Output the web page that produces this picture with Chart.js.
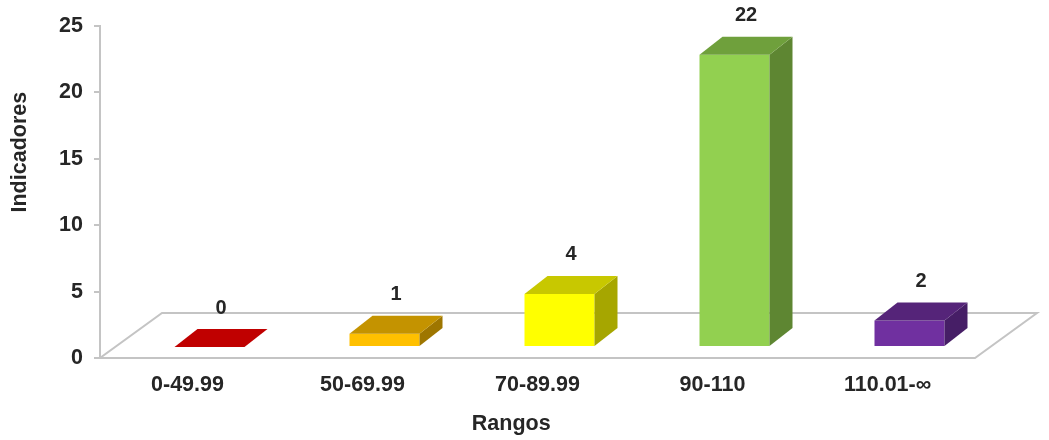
<!DOCTYPE html>
<html>
<head>
<meta charset="utf-8">
<script src="https://cdn.jsdelivr.net/npm/chart.js@4.4.1/dist/chart.umd.min.js"></script>
<style>
    html, body { margin: 0; padding: 0; background: #fff; }
    canvas { display: block; }
</style>
</head>
<body>
<canvas id="rangosChart" width="1049" height="440"></canvas>
<script>
    // data
    const rangos = ['0-49.99', '50-69.99', '70-89.99', '90-110', '110.01-\u221e'];
    const indicadores = [0, 1, 4, 22, 2];
    const yTicks = [0, 5, 10, 15, 20, 25];
    const xTitle = 'Rangos';
    const yTitle = 'Indicadores';

    // bar colours: front, top, side
    const frontColors = ['#c00000', '#ffc000', '#ffff00', '#92d050', '#7030a0'];
    const topColors = ['#c00000', '#c49300', '#c8c800', '#6fa03c', '#552479'];
    const sideColors = ['#a00000', '#9e7600', '#a6a600', '#5e8632', '#461e66'];

    const FONT = "'Liberation Sans', Arial, sans-serif";
    const TEXT = '#262626';
    const GRID = '#c4c4c4';

    // 3d look
    const barShift = { x: 22, y: -11 };   // where the bar fronts sit on the floor
    const barDepth = { x: 23, y: -18 };
    const floorDepth = { x: 62, y: -45 };

    const threeD = {
        id: 'threeD',
        beforeDatasetsDraw(chart) {
            const ctx = chart.ctx;
            const area = chart.chartArea;
            // floor
            ctx.save();
            ctx.beginPath();
            ctx.moveTo(area.left, area.bottom);
            ctx.lineTo(area.right, area.bottom);
            ctx.lineTo(area.right + floorDepth.x, area.bottom + floorDepth.y);
            ctx.lineTo(area.left + floorDepth.x, area.bottom + floorDepth.y);
            ctx.closePath();
            ctx.fillStyle = '#ffffff';
            ctx.fill();
            ctx.strokeStyle = GRID;
            ctx.lineWidth = 2;
            ctx.stroke();
            ctx.restore();

            // bar fronts are drawn by the library, pushed back onto the floor
            ctx.save();
            ctx.translate(barShift.x, barShift.y);
        },
        afterDatasetsDraw(chart) {
            const ctx = chart.ctx;
            const meta = chart.getDatasetMeta(0);
            meta.data.forEach((bar, i) => {
                const p = bar.getProps(['x', 'y', 'base', 'width'], true);
                const l = p.x - p.width / 2;
                const r = p.x + p.width / 2;
                const t = p.y;
                const b = p.base;

                if (b - t > 0.5) {
                    ctx.beginPath();
                    ctx.moveTo(r, t);
                    ctx.lineTo(r + barDepth.x, t + barDepth.y);
                    ctx.lineTo(r + barDepth.x, b + barDepth.y);
                    ctx.lineTo(r, b);
                    ctx.closePath();
                    ctx.fillStyle = sideColors[i];
                    ctx.fill();
                }

                ctx.beginPath();
                ctx.moveTo(l, t);
                ctx.lineTo(l + barDepth.x, t + barDepth.y);
                ctx.lineTo(r + barDepth.x, t + barDepth.y);
                ctx.lineTo(r, t);
                ctx.closePath();
                ctx.fillStyle = topColors[i];
                ctx.fill();

                // value label above the top face
                ctx.fillStyle = TEXT;
                ctx.font = 'bold 20px ' + FONT;
                ctx.textAlign = 'center';
                ctx.textBaseline = 'middle';
                ctx.fillText(String(indicadores[i]), p.x + barDepth.x / 2, t + barDepth.y - 21);
            });
            ctx.restore();
        },
        afterDraw(chart) {
            // axis titles sit a little off the centre in the original
            const ctx = chart.ctx;
            const area = chart.chartArea;
            ctx.save();
            ctx.fillStyle = TEXT;
            ctx.font = 'bold 21.5px ' + FONT;
            ctx.textAlign = 'center';
            ctx.textBaseline = 'middle';
            ctx.fillText(xTitle, area.left + (area.right - area.left) * 0.47, 424);
            ctx.translate(20, area.top + (area.bottom - area.top) * 0.38);
            ctx.rotate(-Math.PI / 2);
            ctx.fillText(yTitle, 0, 0);
            ctx.restore();
        }
    };

    new Chart(document.getElementById('rangosChart'), {
        type: 'bar',
        data: {
            labels: rangos,
            datasets: [{
                data: indicadores,
                backgroundColor: frontColors,
                borderWidth: 0,
                categoryPercentage: 0.8,
                barPercentage: 0.5,
                clip: false
            }]
        },
        options: {
            responsive: false,
            animation: false,
            layout: { padding: { top: 26, right: 74, left: 0, bottom: 0 } },
            plugins: {
                legend: { display: false },
                tooltip: { enabled: false }
            },
            scales: {
                x: {
                    grid: { display: false },
                    border: { display: false },
                    ticks: {
                        color: TEXT,
                        padding: 6,
                        font: { family: FONT, size: 21.5, weight: 'bold' }
                    },
                    afterFit(scale) { scale.height = 82; }
                },
                y: {
                    min: yTicks[0],
                    max: yTicks[yTicks.length - 1],
                    afterBuildTicks(scale) { scale.ticks = yTicks.map(v => ({ value: v })); },
                    grid: {
                        display: true,
                        drawOnChartArea: false,
                        drawTicks: true,
                        tickLength: 6,
                        color: GRID,
                        lineWidth: 2
                    },
                    border: { display: true, color: GRID, width: 2 },
                    ticks: {
                        color: TEXT,
                        padding: 11,
                        font: { family: FONT, size: 21.5, weight: 'bold' }
                    },
                    afterFit(scale) { scale.width = 100; }
                }
            }
        },
        plugins: [threeD]
    });
</script>
</body>
</html>
